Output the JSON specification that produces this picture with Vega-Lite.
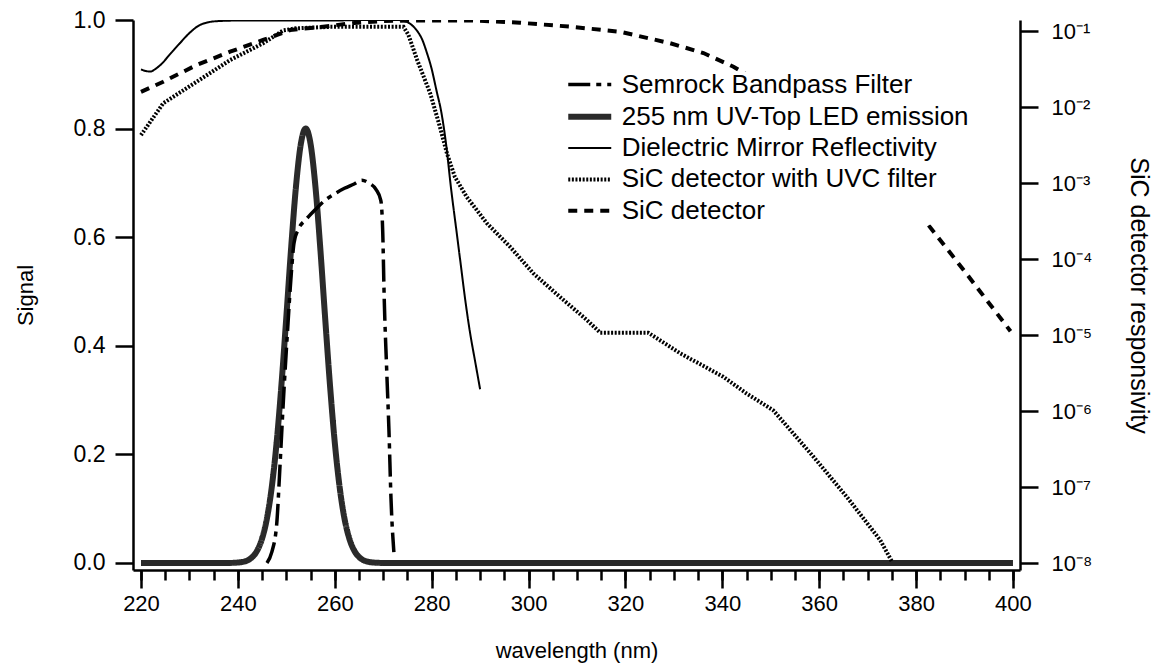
{
  "$schema": "https://vega.github.io/schema/vega-lite/v6.json",
  "autosize": {"type": "none"},
  "width": 887,
  "height": 550,
  "padding": {"left": 133, "top": 20, "right": 142, "bottom": 101},
  "background": "white",
  "config": {
    "view": {"stroke": null},
    "font": "Liberation Sans",
    "axis": {
      "domainColor": "black", "tickColor": "black", "labelColor": "black", "titleColor": "black",
      "labelFontSize": 22, "titleFontSize": 22, "titleFontWeight": "normal",
      "domainWidth": 2.5, "tickWidth": 2.5, "grid": false,
      "labelFont": "Liberation Sans", "titleFont": "Liberation Sans"
    },
    "legend": {
      "orient": "none", "legendX": 442.75, "legendY": 51.5, "padding": 0,
      "fillColor": "white", "labelFontSize": 26, "labelFont": "Liberation Sans", "labelColor": "black",
      "labelLimit": 0,
      "symbolType": "M-2,0H2", "symbolSize": 462, "labelOffset": 18, "rowPadding": 5.3
    }
  },
  "data": {"values": [
    {"s": "255 nm UV-Top LED emission", "x": 220, "y": 0},
    {"s": "255 nm UV-Top LED emission", "x": 238, "y": 0},
    {"s": "255 nm UV-Top LED emission", "x": 240, "y": 0.0008},
    {"s": "255 nm UV-Top LED emission", "x": 241, "y": 0.002},
    {"s": "255 nm UV-Top LED emission", "x": 242, "y": 0.0048},
    {"s": "255 nm UV-Top LED emission", "x": 243, "y": 0.011},
    {"s": "255 nm UV-Top LED emission", "x": 244, "y": 0.023},
    {"s": "255 nm UV-Top LED emission", "x": 245, "y": 0.045},
    {"s": "255 nm UV-Top LED emission", "x": 246, "y": 0.082},
    {"s": "255 nm UV-Top LED emission", "x": 247, "y": 0.140},
    {"s": "255 nm UV-Top LED emission", "x": 248, "y": 0.222},
    {"s": "255 nm UV-Top LED emission", "x": 249, "y": 0.329},
    {"s": "255 nm UV-Top LED emission", "x": 250, "y": 0.453},
    {"s": "255 nm UV-Top LED emission", "x": 251, "y": 0.581},
    {"s": "255 nm UV-Top LED emission", "x": 252, "y": 0.694},
    {"s": "255 nm UV-Top LED emission", "x": 253, "y": 0.772},
    {"s": "255 nm UV-Top LED emission", "x": 254, "y": 0.800},
    {"s": "255 nm UV-Top LED emission", "x": 255, "y": 0.772},
    {"s": "255 nm UV-Top LED emission", "x": 256, "y": 0.694},
    {"s": "255 nm UV-Top LED emission", "x": 257, "y": 0.581},
    {"s": "255 nm UV-Top LED emission", "x": 258, "y": 0.453},
    {"s": "255 nm UV-Top LED emission", "x": 259, "y": 0.329},
    {"s": "255 nm UV-Top LED emission", "x": 260, "y": 0.222},
    {"s": "255 nm UV-Top LED emission", "x": 261, "y": 0.140},
    {"s": "255 nm UV-Top LED emission", "x": 262, "y": 0.082},
    {"s": "255 nm UV-Top LED emission", "x": 263, "y": 0.045},
    {"s": "255 nm UV-Top LED emission", "x": 264, "y": 0.023},
    {"s": "255 nm UV-Top LED emission", "x": 265, "y": 0.011},
    {"s": "255 nm UV-Top LED emission", "x": 266, "y": 0.0048},
    {"s": "255 nm UV-Top LED emission", "x": 267, "y": 0.002},
    {"s": "255 nm UV-Top LED emission", "x": 268, "y": 0.0008},
    {"s": "255 nm UV-Top LED emission", "x": 270, "y": 0},
    {"s": "255 nm UV-Top LED emission", "x": 400, "y": 0},

    {"s": "Semrock Bandpass Filter", "x": 246.0, "y": 0.0},
    {"s": "Semrock Bandpass Filter", "x": 247.0, "y": 0.02},
    {"s": "Semrock Bandpass Filter", "x": 248.0, "y": 0.07},
    {"s": "Semrock Bandpass Filter", "x": 248.7, "y": 0.18},
    {"s": "Semrock Bandpass Filter", "x": 249.4, "y": 0.30},
    {"s": "Semrock Bandpass Filter", "x": 250.2, "y": 0.42},
    {"s": "Semrock Bandpass Filter", "x": 251.0, "y": 0.53},
    {"s": "Semrock Bandpass Filter", "x": 251.6, "y": 0.59},
    {"s": "Semrock Bandpass Filter", "x": 252.5, "y": 0.615},
    {"s": "Semrock Bandpass Filter", "x": 254.0, "y": 0.632},
    {"s": "Semrock Bandpass Filter", "x": 256.0, "y": 0.651},
    {"s": "Semrock Bandpass Filter", "x": 258.0, "y": 0.668},
    {"s": "Semrock Bandpass Filter", "x": 260.0, "y": 0.680},
    {"s": "Semrock Bandpass Filter", "x": 262.0, "y": 0.690},
    {"s": "Semrock Bandpass Filter", "x": 264.0, "y": 0.698},
    {"s": "Semrock Bandpass Filter", "x": 265.6, "y": 0.705},
    {"s": "Semrock Bandpass Filter", "x": 267.0, "y": 0.700},
    {"s": "Semrock Bandpass Filter", "x": 268.5, "y": 0.688},
    {"s": "Semrock Bandpass Filter", "x": 269.5, "y": 0.668},
    {"s": "Semrock Bandpass Filter", "x": 269.9, "y": 0.610},
    {"s": "Semrock Bandpass Filter", "x": 270.2, "y": 0.490},
    {"s": "Semrock Bandpass Filter", "x": 270.7, "y": 0.360},
    {"s": "Semrock Bandpass Filter", "x": 271.2, "y": 0.240},
    {"s": "Semrock Bandpass Filter", "x": 271.6, "y": 0.120},
    {"s": "Semrock Bandpass Filter", "x": 272.2, "y": 0.020},

    {"s": "Dielectric Mirror Reflectivity", "x": 220, "y": 0.909},
    {"s": "Dielectric Mirror Reflectivity", "x": 221, "y": 0.906},
    {"s": "Dielectric Mirror Reflectivity", "x": 222, "y": 0.905},
    {"s": "Dielectric Mirror Reflectivity", "x": 223, "y": 0.910},
    {"s": "Dielectric Mirror Reflectivity", "x": 224, "y": 0.917},
    {"s": "Dielectric Mirror Reflectivity", "x": 226, "y": 0.937},
    {"s": "Dielectric Mirror Reflectivity", "x": 228, "y": 0.957},
    {"s": "Dielectric Mirror Reflectivity", "x": 230, "y": 0.976},
    {"s": "Dielectric Mirror Reflectivity", "x": 232, "y": 0.990},
    {"s": "Dielectric Mirror Reflectivity", "x": 234, "y": 0.996},
    {"s": "Dielectric Mirror Reflectivity", "x": 236, "y": 0.998},
    {"s": "Dielectric Mirror Reflectivity", "x": 240, "y": 0.999},
    {"s": "Dielectric Mirror Reflectivity", "x": 250, "y": 0.999},
    {"s": "Dielectric Mirror Reflectivity", "x": 260, "y": 0.999},
    {"s": "Dielectric Mirror Reflectivity", "x": 265, "y": 1.0},
    {"s": "Dielectric Mirror Reflectivity", "x": 270, "y": 1.0},
    {"s": "Dielectric Mirror Reflectivity", "x": 273, "y": 1.0},
    {"s": "Dielectric Mirror Reflectivity", "x": 275, "y": 0.996},
    {"s": "Dielectric Mirror Reflectivity", "x": 276, "y": 0.99},
    {"s": "Dielectric Mirror Reflectivity", "x": 277, "y": 0.98},
    {"s": "Dielectric Mirror Reflectivity", "x": 278, "y": 0.965},
    {"s": "Dielectric Mirror Reflectivity", "x": 279, "y": 0.94},
    {"s": "Dielectric Mirror Reflectivity", "x": 280, "y": 0.91},
    {"s": "Dielectric Mirror Reflectivity", "x": 281, "y": 0.87},
    {"s": "Dielectric Mirror Reflectivity", "x": 282, "y": 0.83},
    {"s": "Dielectric Mirror Reflectivity", "x": 283, "y": 0.77},
    {"s": "Dielectric Mirror Reflectivity", "x": 284, "y": 0.69},
    {"s": "Dielectric Mirror Reflectivity", "x": 285, "y": 0.62},
    {"s": "Dielectric Mirror Reflectivity", "x": 286, "y": 0.55},
    {"s": "Dielectric Mirror Reflectivity", "x": 287, "y": 0.48},
    {"s": "Dielectric Mirror Reflectivity", "x": 288, "y": 0.42},
    {"s": "Dielectric Mirror Reflectivity", "x": 289, "y": 0.37},
    {"s": "Dielectric Mirror Reflectivity", "x": 290, "y": 0.32},

    {"s": "SiC detector with UVC filter", "x": 220, "y": 0.004266},
    {"s": "SiC detector with UVC filter", "x": 224.6, "y": 0.01122},
    {"s": "SiC detector with UVC filter", "x": 231.5, "y": 0.02153},
    {"s": "SiC detector with UVC filter", "x": 238.4, "y": 0.0415},
    {"s": "SiC detector with UVC filter", "x": 245.2, "y": 0.06887},
    {"s": "SiC detector with UVC filter", "x": 249.4, "y": 0.1023},
    {"s": "SiC detector with UVC filter", "x": 252, "y": 0.1084},
    {"s": "SiC detector with UVC filter", "x": 259, "y": 0.1135},
    {"s": "SiC detector with UVC filter", "x": 266, "y": 0.1135},
    {"s": "SiC detector with UVC filter", "x": 274.2, "y": 0.1135},
    {"s": "SiC detector with UVC filter", "x": 275.2, "y": 0.0891},
    {"s": "SiC detector with UVC filter", "x": 277, "y": 0.04169},
    {"s": "SiC detector with UVC filter", "x": 279.7, "y": 0.01514},
    {"s": "SiC detector with UVC filter", "x": 281.7, "y": 0.005495},
    {"s": "SiC detector with UVC filter", "x": 283.2, "y": 0.002399},
    {"s": "SiC detector with UVC filter", "x": 284.8, "y": 0.001202},
    {"s": "SiC detector with UVC filter", "x": 287.2, "y": 0.000661},
    {"s": "SiC detector with UVC filter", "x": 291.4, "y": 0.000295},
    {"s": "SiC detector with UVC filter", "x": 296.2, "y": 0.0001445},
    {"s": "SiC detector with UVC filter", "x": 301, "y": 0.0000646},
    {"s": "SiC detector with UVC filter", "x": 306.5, "y": 0.0000316},
    {"s": "SiC detector with UVC filter", "x": 312, "y": 0.00001585},
    {"s": "SiC detector with UVC filter", "x": 314.8, "y": 0.00001072},
    {"s": "SiC detector with UVC filter", "x": 324.7, "y": 0.00001072},
    {"s": "SiC detector with UVC filter", "x": 331.3, "y": 0.00000575},
    {"s": "SiC detector with UVC filter", "x": 340.2, "y": 0.00000282},
    {"s": "SiC detector with UVC filter", "x": 345, "y": 0.0000017},
    {"s": "SiC detector with UVC filter", "x": 350.5, "y": 0.000001023},
    {"s": "SiC detector with UVC filter", "x": 352, "y": 0.000000794},
    {"s": "SiC detector with UVC filter", "x": 358.8, "y": 0.000000251},
    {"s": "SiC detector with UVC filter", "x": 365.7, "y": 0.0000000741},
    {"s": "SiC detector with UVC filter", "x": 372.6, "y": 0.00000002},
    {"s": "SiC detector with UVC filter", "x": 375, "y": 0.00000001047},

    {"s": "SiC detector", "x": 220, "y": 0.01585},
    {"s": "SiC detector", "x": 224.6, "y": 0.02153},
    {"s": "SiC detector", "x": 231.5, "y": 0.03573},
    {"s": "SiC detector", "x": 238.4, "y": 0.05346},
    {"s": "SiC detector", "x": 245.2, "y": 0.07621},
    {"s": "SiC detector", "x": 250.8, "y": 0.103},
    {"s": "SiC detector", "x": 257.6, "y": 0.114},
    {"s": "SiC detector", "x": 264.5, "y": 0.1285},
    {"s": "SiC detector", "x": 270, "y": 0.1355},
    {"s": "SiC detector", "x": 276, "y": 0.138},
    {"s": "SiC detector", "x": 288, "y": 0.138},
    {"s": "SiC detector", "x": 298.2, "y": 0.1285},
    {"s": "SiC detector", "x": 308.6, "y": 0.114},
    {"s": "SiC detector", "x": 318.9, "y": 0.0977},
    {"s": "SiC detector", "x": 329.2, "y": 0.0692},
    {"s": "SiC detector", "x": 336.1, "y": 0.0513},
    {"s": "SiC detector", "x": 342.3, "y": 0.0339},
    {"s": "SiC detector", "x": 350, "y": 0.01738},
    {"s": "SiC detector", "x": 360, "y": 0.00603},
    {"s": "SiC detector", "x": 370, "y": 0.001585},
    {"s": "SiC detector", "x": 376, "y": 0.000708},
    {"s": "SiC detector", "x": 382.5, "y": 0.000282},
    {"s": "SiC detector", "x": 390, "y": 0.0000692},
    {"s": "SiC detector", "x": 399.5, "y": 0.0000112}
  ]},
  "layer": [
    {
      "transform": [{"filter": {"field": "s", "oneOf": ["Semrock Bandpass Filter", "255 nm UV-Top LED emission", "Dielectric Mirror Reflectivity"]}}],
      "mark": {"type": "line", "interpolate": "monotone", "clip": true},
      "encoding": {
        "x": {"field": "x", "type": "quantitative",
          "scale": {"domain": [218.35, 401.45], "nice": false, "zero": false},
          "axis": {"orient": "bottom", "values": [220, 240, 260, 280, 300, 320, 340, 360, 380, 400], "format": "d",
            "tickSize": 18, "labelPadding": 5, "title": "wavelength (nm)", "titlePadding": 26}},
        "y": {"field": "y", "type": "quantitative",
          "scale": {"domain": [-0.013, 1.0], "nice": false, "zero": false},
          "axis": {"orient": "left", "values": [0, 0.2, 0.4, 0.6, 0.8, 1.0], "format": ".1f", "labelFontSize": 23,
            "tickSize": 18, "labelPadding": 10, "title": "Signal", "titlePadding": 36}},
        "color": {"field": "s", "type": "nominal",
          "scale": {"domain": ["Semrock Bandpass Filter", "255 nm UV-Top LED emission", "Dielectric Mirror Reflectivity", "SiC detector with UVC filter", "SiC detector"],
            "range": ["black", "#2a2a2a", "black", "black", "black"]},
          "legend": {"title": null}},
        "strokeDash": {"field": "s", "type": "nominal",
          "scale": {"domain": ["Semrock Bandpass Filter", "255 nm UV-Top LED emission", "Dielectric Mirror Reflectivity", "SiC detector with UVC filter", "SiC detector"],
            "range": [[22, 6, 5, 6], [1, 0], [1, 0], [2, 1.6], [9, 7]]},
          "legend": {"title": null}},
        "strokeWidth": {"field": "s", "type": "nominal",
          "scale": {"type": "ordinal", "domain": ["Semrock Bandpass Filter", "255 nm UV-Top LED emission", "Dielectric Mirror Reflectivity", "SiC detector with UVC filter", "SiC detector"],
            "range": [3.5, 6, 2, 4, 4]},
          "legend": {"title": null}}
      }
    },
    {
      "transform": [{"filter": {"field": "s", "oneOf": ["SiC detector with UVC filter", "SiC detector"]}}],
      "mark": {"type": "line", "clip": true},
      "encoding": {
        "x": {"field": "x", "type": "quantitative",
          "scale": {"domain": [218.35, 401.45], "nice": false, "zero": false},
          "axis": {"orient": "bottom", "values": [220, 225, 230, 235, 240, 245, 250, 255, 260, 265, 270, 275, 280, 285, 290, 295, 300, 305, 310, 315, 320, 325, 330, 335, 340, 345, 350, 355, 360, 365, 370, 375, 380, 385, 390, 395, 400],
            "tickSize": 10, "labels": false, "domain": false, "title": null}},
        "y": {"field": "y", "type": "quantitative",
          "scale": {"type": "log", "domain": [8.09e-9, 0.1396], "nice": false},
          "axis": {"orient": "right", "values": [1e-8, 1e-7, 1e-6, 1e-5, 1e-4, 1e-3, 1e-2, 1e-1],
            "tickSize": 18, "labelPadding": 13, "title": "SiC detector responsivity", "titleFontSize": 25, "titlePadding": 34,
            "labelExpr": "'10' + ['⁻⁸','⁻⁷','⁻⁶','⁻⁵','⁻⁴','⁻³','⁻²','⁻¹'][round(log(datum.value)/LN10) + 8]"}},
        "color": {"field": "s", "type": "nominal",
          "scale": {"domain": ["Semrock Bandpass Filter", "255 nm UV-Top LED emission", "Dielectric Mirror Reflectivity", "SiC detector with UVC filter", "SiC detector"],
            "range": ["black", "#2a2a2a", "black", "black", "black"]},
          "legend": {"title": null}},
        "strokeDash": {"field": "s", "type": "nominal",
          "scale": {"domain": ["Semrock Bandpass Filter", "255 nm UV-Top LED emission", "Dielectric Mirror Reflectivity", "SiC detector with UVC filter", "SiC detector"],
            "range": [[22, 6, 5, 6], [1, 0], [1, 0], [2, 1.6], [9, 7]]},
          "legend": {"title": null}},
        "strokeWidth": {"field": "s", "type": "nominal",
          "scale": {"type": "ordinal", "domain": ["Semrock Bandpass Filter", "255 nm UV-Top LED emission", "Dielectric Mirror Reflectivity", "SiC detector with UVC filter", "SiC detector"],
            "range": [3.5, 6, 2, 4, 4]},
          "legend": {"title": null}}
      }
    }
  ],
  "resolve": {"scale": {"y": "independent"}, "axis": {"x": "independent", "y": "independent"}}
}
